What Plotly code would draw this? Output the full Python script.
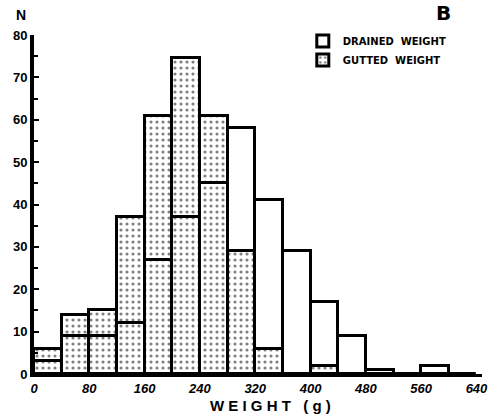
import plotly.graph_objects as go

bin_centers = [20, 60, 100, 140, 180, 220, 260, 300, 340, 380, 420, 460, 500, 540, 580, 620]
drained = [3, 9, 9, 12, 27, 37, 45, 58, 41, 29, 17, 9, 1, 0, 2, 0]
gutted = [6, 14, 15, 37, 61, 74.5, 61, 29, 6, 0, 2, 0, 0, 0, 0, 0]
x_ticks = [0, 80, 160, 240, 320, 400, 480, 560, 640]
y_ticks = [0, 10, 20, 30, 40, 50, 60, 70, 80]

FONT = "Liberation Sans"

fig = go.Figure()
fig.add_trace(go.Bar(
    x=bin_centers, y=gutted, width=40, name="GUTTED  WEIGHT", legendrank=2,
    marker=dict(color="white", line=dict(color="black", width=3),
                pattern=dict(shape=".", size=6, solidity=0.22, fgcolor="black", bgcolor="white")),
))
fig.add_trace(go.Bar(
    x=bin_centers, y=drained, width=40, name="DRAINED  WEIGHT", legendrank=1,
    marker=dict(color="rgba(0,0,0,0)", line=dict(color="black", width=3)),
))

fig.update_layout(
    width=495, height=415,
    margin=dict(l=34, r=13, t=35, b=41),
    paper_bgcolor="white", plot_bgcolor="white",
    barmode="overlay", bargap=0,
    font=dict(family=FONT, color="black"),
    legend=dict(x=0.6, y=1.025, xanchor="left", yanchor="top",
                font=dict(family="DejaVu Sans", size=10, color="black", weight="bold"),
                bgcolor="rgba(0,0,0,0)", itemwidth=30, tracegroupgap=0),
    xaxis=dict(range=[0, 648], showgrid=False, zeroline=False, showline=True,
               linecolor="black", linewidth=3, tickvals=x_ticks, automargin=False,
               ticktext=[str(v) for v in x_ticks], ticks="",
               tickfont=dict(family=FONT, size=13, weight="bold", style="italic")),
    yaxis=dict(range=[0, 80], showgrid=False, zeroline=False, showline=True,
               linecolor="black", linewidth=4, tickvals=y_ticks, automargin=False,
               ticktext=[str(v) for v in y_ticks], ticks="inside", ticklen=5,
               tickwidth=2, tickcolor="black",
               minor=dict(dtick=5, ticks="inside", ticklen=4, tickcolor="black", tickwidth=2),
               tickfont=dict(family=FONT, size=13, weight="bold")),
    annotations=[
        dict(text="W E I G H T   ( g )", xref="paper", yref="paper", x=0.527, y=0,
             yshift=-31, xanchor="center", yanchor="middle", showarrow=False,
             font=dict(family=FONT, size=15, weight="bold")),
        dict(text="N", xref="paper", yref="paper", x=-0.03, y=1.0, yshift=10,
             xanchor="center", yanchor="bottom", showarrow=False,
             font=dict(family=FONT, size=14, weight="bold")),
        dict(text="B", xref="paper", yref="paper", x=0.913, y=1.065,
             xanchor="center", yanchor="middle", showarrow=False,
             font=dict(family="DejaVu Sans", size=20, weight="bold")),
    ],
)

fig.write_html("out.html", post_script="document.body.style.margin='0';",
               config={"displayModeBar": False})
